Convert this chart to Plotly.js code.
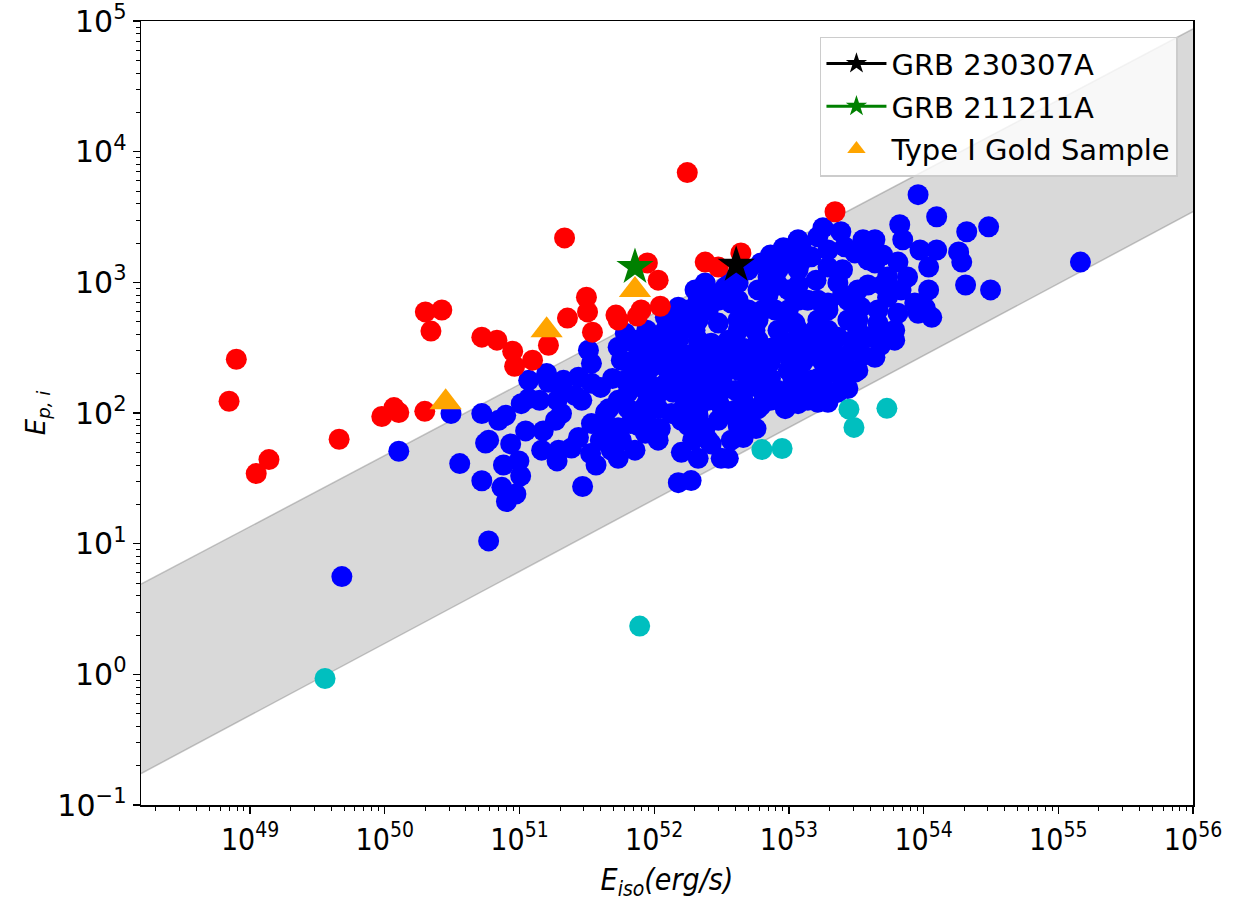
<!DOCTYPE html>
<html>
<head>
<meta charset="utf-8">
<script src="https://cdn.plot.ly/plotly-3.0.1.min.js"></script>
<style>html,body{margin:0;padding:0;background:#fff;}#chart{width:1242px;height:901px;}</style>
</head>
<body>
<div id="chart"></div>
<script>
// ---- data ----
const blueEiso = [4.8e49,1.27e50,3.6e50,5.9e50,1.46e55,2.94e51,3.1e50,5.25e50,5.6e50,5.25e50,7.9e50,7.0e50,1.17e51,1.03e51,1.59e51,1.64e51,2.74e51,3.25e51,3.42e51,3.42e51,2.12e51,2.6e51,4.0e51,4.35e51,3.42e51,2.05e51,1.85e51,1.11e51,1.46e51,1.95e51,2.43e51,2.74e51,5.9e50,8.6e50,7.6e50,1.02e51,7.4e50,9.4e50,8.0e50,3.7e51,3.37e51,4.8e51,5.7e51,7.2e51,5.4e51,6.65e51,8.0e51,8.6e51,1.11e52,8.6e51,6.1e51,5.7e51,5.4e51,7.2e51,9.5e51,1.07e52,1.34e52,1.59e52,1.59e52,1.51e52,1.88e52,2.52e52,2.65e52,3.14e52,2.39e52,2.99e52,3.73e52,3.73e52,1.51e52,1.59e52,2.01e52,2.39e52,2.65e52,3.37e52,3.73e52,3.73e52,1.21e52,1.21e52,9.5e51,6.1e51,7.2e51,2.99e52,2.01e52,2.65e52,1.51e52,9.1e53,1.25e54,6.65e53,2.09e54,3.04e54,9.4e53,1.25e54,1.82e54,1.92e54,1.09e54,2.05e54,3.14e54,6.45e53,5.4e53,7.6e53,1.09e54,1.03e54,1.15e54,8.6e53,6.8e53,5.4e53,4.58e53,4.35e53,3.55e53,3.86e53,4.35e53,3.09e53,2.43e53,1.79e53,1.64e53,2.6e53,1.95e53,1.46e53,1.23e53,9.1e52,9.5e52,1.21e53,1.59e53,2.31e53,3.25e53,3.42e53,4.58e53,6.1e53,3.86e53,2.74e53,1.95e53,1.38e53,9.9e52,7.0e52,6.2e52,5.0e52,4.2e52,5.9e52,7.9e52,1.11e53,1.56e53,2.31e53,5.0e52,4.2e52,5.6e52,8.8e52,1.38e53,4.0e52,4.58e52,5.7e52,6.2e52,9.4e52,1.17e53,1.64e53,1.95e53,2.74e53,3.09e53,4.35e53,4.8e53,6.1e53,3.55e52,2.43e53,1.95e53,1.46e53,8.3e52,5.0e52,4.0e52,
2.12e52,2.99e52,1.17e53,1.64e53,2.74e53,
2.12e52,4.2e52,5.9e52,9.9e52,1.64e53,3.25e53,
1.07e52,2.12e52,3.55e52,5.9e52,1.17e53,1.79e53,2.99e53,4.58e53,
7.6e51,1.17e52,1.79e52,2.52e52,3.79e52,5.9e52,9.9e52,1.5e53,2.31e53,3.55e53,
7.6e51,1.27e52,1.79e52,2.74e52,4.2e52,6.4e52,9.9e52,1.17e53,3.25e53,
7.6e51,1.17e52,1.79e52,2.52e52,3.2e52,5.9e52,1.17e53,1.79e53,
5.4e51,1.79e52,2.52e52,2.99e52,4.58e52,7.3e52,1.38e53,
8.8e51,2.12e52,5.0e52,
1.95e53,8.3e52,1.17e53,2.5e53,8.3e52,1.17e53,3.86e53,4.97e53,
1.79e52,2.52e52,6.4e52,9.9e52,1.95e53,3.25e53,
8.8e51,1.51e52,4.2e52,8.3e52,1.17e53,1.95e53,3.25e53,4.97e53,
8.8e51,1.38e52,2.12e52,2.99e52,4.58e52,7.3e52,1.17e53,1.95e53,2.99e53,
6.4e51,9.8e51,1.51e52,2.12e52,3.2e52,5.0e52,7.3e52,1.27e53,1.79e53,2.6e53,
4.9e51,8.8e51,1.51e52,2.12e52,3.2e52,5.0e52,7.3e52,1.07e53,1.64e53,
6.4e51,8.8e51,1.38e52,2.12e52,2.99e52,4.58e52,6.4e52,9.9e52,1.5e53,2.31e53,
4.6e51,6.4e51,1.07e52,1.64e52,2.12e52,3.2e52,5.9e52,
4.25e51,7.6e51,1.79e52,2.12e52,4.2e52,
3.98e51,1.07e52,1.93e52,
5.4e51,2.12e52,
7.3e52,1.07e53,3.86e53,4.97e53,
1.17e53,7.0e53,
2.5e53,7.0e52,2.99e52,
9.1e53,6.45e53,
1.17e51,2.12e51,1.41e51,1.9e51,2.9e51,1.5e51,4.6e51,1.9e51,9.9e50];
const blueEp = [5.6,51,41,10.5,1430,27.4,99,99,59,30.3,96,88,129,118,201,172,188,303,240,169,144,136,157,101,83,99,88,73,52,52,54,65,62,58,40,33,27,24,21,40,49,52,62,52,77,83,88,70,76,114,178,254,319,342,224,141,99,88,50,29.3,30.4,62,58,45,77,88,99,62,645,515,875,990,830,920,1040,695,540,430,342,408,361,488,430,342,361,4690,3180,2760,2440,2660,1770,1770,1710,1430,1310,955,875,1430,1100,1100,875,635,540,695,875,770,615,2120,2120,1490,1410,1680,2440,2620,2230,1870,1310,1570,1940,1840,1410,1410,1040,990,875,645,488,430,381,515,695,730,875,1100,1410,1250,990,875,615,488,430,381,615,730,430,361,342,105,65,76,114,108,118,121,121,154,205,267,330,361,45,188,212,178,149,178,149,
730,730,730,730,730,
515,515,515,515,515,515,
361,361,361,361,361,361,361,361,
277,277,277,277,277,277,277,277,277,277,
212,212,212,212,212,212,212,212,212,
163,163,163,163,163,163,163,163,
125,125,125,125,125,125,125,
95,95,95,
1770,1250,1250,1250,955,955,955,955,
615,615,615,615,615,615,
430,430,430,430,430,430,430,430,
313,313,313,313,313,313,313,313,313,
245,245,245,245,245,245,245,245,245,245,
184,184,184,184,184,184,184,184,184,
144,144,144,144,144,144,144,144,144,144,
108,108,108,108,108,108,108,
80,80,80,80,80,
62,62,62,
45,45,
1620,1620,1620,1620,
2120,2120,
800,800,800,
580,580,
178,178,125,125,125,73,73,43,43];

const redEiso = [6.98e48,7.9e48,1.11e49,1.38e49,4.58e49,9.5e49,1.17e50,1.27e50,1.98e50,2.0e50,2.65e50,2.2e50,5.25e50,6.8e50,8.9e50,9.2e50,1.25e51,1.64e51,2.16e51,2.27e51,3.14e51,3.2e51,3.48e51,5.2e51,5.4e51,7.5e51,8.0e51,8.9e51,1.07e52,1.11e52,1.76e52,2.39e52,2.99e52,4.4e52,2.2e53];
const redEp = [123,258,34.4,44,63,94,110,101,103,594,615,424,381,361,297,228,254,330,2190,533,770,594,416,562,515,552,615,1410,1040,657,6920,1430,1310,1680,3470];

const cyanEiso = [3.6e49,7.8e51,6.3e52,8.9e52,2.79e53,3.04e53,5.34e53];
const cyanEp = [0.93,2.34,52.5,53.5,107,77.6,108.6];

const goldEiso = [2.83e50,1.59e51,7.2e51];
const goldEp = [121,430,875];

const grb230307Eiso = [4.06e52];
const grb230307Ep = [1360];
const grb211211Eiso = [7.2e51];
const grb211211Ep = [1310];

const bandEiso = [1.55e48, 1e56];
const bandUpper = [4.9, 8.7e4];
const bandLower = [0.174, 3475];

const xTickVals = [1e49,1e50,1e51,1e52,1e53,1e54,1e55,1e56];
const xTickText = ['10<sup>49</sup>','10<sup>50</sup>','10<sup>51</sup>','10<sup>52</sup>','10<sup>53</sup>','10<sup>54</sup>','10<sup>55</sup>','10<sup>56</sup>'];
const yTickVals = [0.1,1,10,100,1000,10000,100000];
const yTickText = ['10<sup>−1</sup>','10<sup>0</sup>','10<sup>1</sup>','10<sup>2</sup>','10<sup>3</sup>','10<sup>4</sup>','10<sup>5</sup>'];

// ---- traces ----
const grayLine = 'rgba(128,128,128,0.45)';
const dotSize = 21;
const traces = [
  {x: bandEiso, y: bandLower, mode: 'lines', line: {color: grayLine, width: 1.5}, showlegend: false, hoverinfo: 'skip'},
  {x: bandEiso, y: bandUpper, mode: 'lines', line: {color: grayLine, width: 1.5}, fill: 'tonexty', fillcolor: 'rgba(128,128,128,0.3)', showlegend: false, hoverinfo: 'skip'},
  {x: blueEiso, y: blueEp, mode: 'markers', marker: {color: '#0000ff', size: dotSize, line: {width: 0}}, showlegend: false},
  {x: redEiso, y: redEp, mode: 'markers', marker: {color: '#ff0000', size: dotSize, line: {width: 0}}, showlegend: false},
  {x: cyanEiso, y: cyanEp, mode: 'markers', marker: {color: '#00bfbf', size: dotSize, line: {width: 0}}, showlegend: false},
  {x: goldEiso, y: goldEp, mode: 'markers', name: 'Type I Gold Sample', legendrank: 3, legendgroup: 'c',
   marker: {color: '#ffa500', size: 28, symbol: 'triangle-up', line: {width: 0}}},
  {x: grb211211Eiso, y: grb211211Ep, mode: 'lines+markers', name: 'GRB 211211A', legendrank: 2, legendgroup: 'b',
   line: {color: '#008000', width: 3}, marker: {color: '#008000', size: 28, symbol: 'star', line: {width: 0}}},
  {x: grb230307Eiso, y: grb230307Ep, mode: 'lines+markers', name: 'GRB 230307A', legendrank: 1, legendgroup: 'a',
   line: {color: '#000000', width: 3}, marker: {color: '#000000', size: 28, symbol: 'star', line: {width: 0}}}
];

const layout = {
  width: 1242, height: 901,
  margin: {l: 141, r: 49, t: 21, b: 96},
  paper_bgcolor: '#ffffff', plot_bgcolor: '#ffffff',
  showlegend: true,
  legend: {
    x: 0.9857, y: 0.98, xanchor: 'right', yanchor: 'top',
    bgcolor: 'rgba(255,255,255,0.8)', bordercolor: '#cccccc', borderwidth: 1.5,
    font: {family: 'DejaVu Sans', size: 29, color: '#000'},
    tracegroupgap: 2, itemwidth: 60
  },
  xaxis: {
    type: 'log', range: [48.19, 56],
    tickmode: 'array', tickvals: xTickVals, ticktext: xTickText,
    tickfont: {family: 'Liberation Sans Narrow, DejaVu Sans Condensed, DejaVu Sans', size: 30, color: '#000'},
    ticklabeloverflow: 'allow',
    ticks: 'outside', ticklen: 7, tickwidth: 1.3, tickcolor: '#000',
    minor: {ticks: 'outside', ticklen: 4, tickwidth: 1, tickcolor: '#000', dtick: 'D1', showgrid: false},
    showgrid: false, zeroline: false,
    showline: true, mirror: true, linecolor: '#000', linewidth: 1.5,
    title: {text: '<i>E<sub>iso</sub>(erg/s)</i>', font: {family: 'Liberation Sans Narrow, DejaVu Sans Condensed, DejaVu Sans', size: 30, color: '#000'}, standoff: 14}
  },
  yaxis: {
    type: 'log', range: [-1, 5.0005],
    tickmode: 'array', tickvals: yTickVals, ticktext: yTickText,
    tickfont: {family: 'DejaVu Sans', size: 30, color: '#000'},
    ticklabeloverflow: 'allow',
    ticks: 'outside', ticklen: 7, tickwidth: 1.3, tickcolor: '#000',
    minor: {ticks: 'outside', ticklen: 4, tickwidth: 1, tickcolor: '#000', dtick: 'D1', showgrid: false},
    showgrid: false, zeroline: false,
    showline: true, mirror: true, linecolor: '#000', linewidth: 1.5,
    title: {text: '<i>E<sub>p, i</sub></i>', font: {family: 'DejaVu Sans', size: 26, color: '#000'}, standoff: 4}
  }
};

Plotly.newPlot('chart', traces, layout, {displayModeBar: false, staticPlot: true});
</script>
</body>
</html>
